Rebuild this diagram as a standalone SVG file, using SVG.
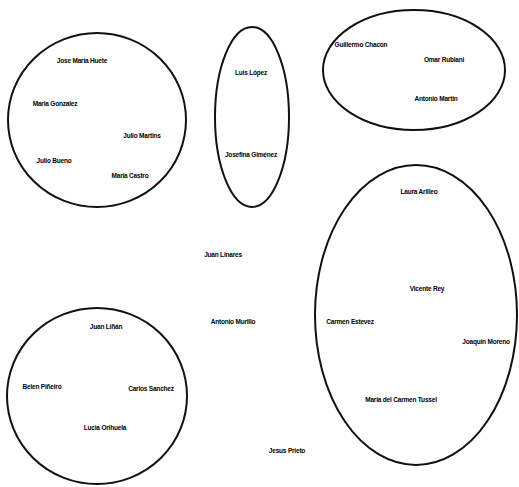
<svg xmlns="http://www.w3.org/2000/svg" width="519" height="487" viewBox="0 0 519 487">
  <style>
    .group { fill: none; stroke: #111; stroke-width: 2; }
    .name { font-family: "Liberation Sans", Arial, sans-serif; font-size: 6.5px; font-weight: bold; fill: #000; text-anchor: middle; dominant-baseline: middle; letter-spacing: -0.2px; }
  </style>
  <rect width="519" height="487" fill="#fff"/>

  <!-- group outlines -->
  <g id="group-a">
    <ellipse class="group" cx="97" cy="120" rx="89" ry="87"/>
    <text class="name" x="82" y="61">Jose Maria Huete</text>
    <text class="name" x="55" y="104">Maria Gonzalez</text>
    <text class="name" x="142" y="136">Julio Martins</text>
    <text class="name" x="54" y="161">Julio Bueno</text>
    <text class="name" x="130" y="176">Maria Castro</text>
  </g>

  <g id="group-b">
    <ellipse class="group" cx="252" cy="117" rx="37" ry="90"/>
    <text class="name" x="251" y="73">Luis López</text>
    <text class="name" x="251" y="155">Josefina Giménez</text>
  </g>

  <g id="group-c">
    <ellipse class="group" cx="414" cy="70" rx="91" ry="60"/>
    <text class="name" x="361" y="45">Guillermo Chacon</text>
    <text class="name" x="444" y="60">Omar Rubiani</text>
    <text class="name" x="436" y="99">Antonio Martin</text>
  </g>

  <g id="group-d">
    <ellipse class="group" cx="416" cy="315" rx="101" ry="150"/>
    <text class="name" x="419" y="192">Laura Arilleo</text>
    <text class="name" x="427" y="289">Vicente Rey</text>
    <text class="name" x="350" y="322">Carmen Estevez</text>
    <text class="name" x="486" y="342">Joaquin Moreno</text>
    <text class="name" x="401" y="400">Maria del Carmen Tussel</text>
  </g>

  <g id="group-e">
    <ellipse class="group" cx="97" cy="396" rx="90" ry="88"/>
    <text class="name" x="106" y="327">Juan Liñán</text>
    <text class="name" x="42" y="387">Belen Piñeiro</text>
    <text class="name" x="151" y="389">Carlos Sanchez</text>
    <text class="name" x="105" y="428">Lucia Orihuela</text>
  </g>

  <!-- ungrouped people -->
  <g id="juan-linares"><text class="name" x="223" y="255">Juan Linares</text></g>
  <g id="antonio-murillo"><text class="name" x="233" y="322">Antonio Murillo</text></g>
  <g id="jesus-prieto"><text class="name" x="287" y="451">Jesus Prieto</text></g>

  <g id="connectors"/>
</svg>
